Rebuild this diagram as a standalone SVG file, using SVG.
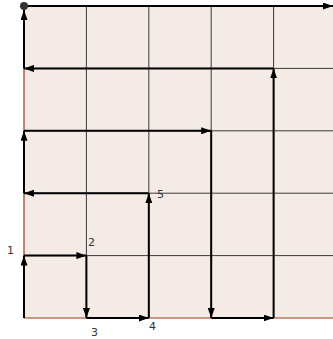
<svg xmlns="http://www.w3.org/2000/svg" width="333" height="339" viewBox="0 0 333 339">
<style>
.grid{stroke:#3a3a3a;stroke-width:1;fill:none}
.edge{stroke:#a0380c;stroke-width:1.2;fill:none}
.seg{stroke:#000;stroke-width:2;fill:none;marker-end:url(#ah)}
.lbl{font-family:"DejaVu Sans",sans-serif;font-size:11px;fill:#333}
</style>
<defs>
<marker id="ah" viewBox="0 0 10 7" refX="10" refY="3.5" markerWidth="10" markerHeight="7" markerUnits="userSpaceOnUse" orient="auto">
<path d="M0,0 L10,3.5 L0,7 Z" fill="#000"/>
</marker>
</defs>
<rect x="24" y="6" width="309" height="312" fill="#f5ebe6"/>
<g id="grid">
<line class="grid" x1="86.4" y1="6" x2="86.4" y2="318"/>
<line class="grid" x1="148.8" y1="6" x2="148.8" y2="318"/>
<line class="grid" x1="211.2" y1="6" x2="211.2" y2="318"/>
<line class="grid" x1="273.6" y1="6" x2="273.6" y2="318"/>
<line class="grid" x1="24" y1="68.4" x2="333" y2="68.4"/>
<line class="grid" x1="24" y1="130.8" x2="333" y2="130.8"/>
<line class="grid" x1="24" y1="193.2" x2="333" y2="193.2"/>
<line class="grid" x1="24" y1="255.6" x2="333" y2="255.6"/>
<line class="edge" x1="24" y1="6" x2="24" y2="318"/>
<line class="edge" x1="24" y1="318" x2="333" y2="318"/>
</g>
<g id="connectors">
<line class="seg" x1="24" y1="318" x2="24" y2="255.6"/>
<line class="seg" x1="24" y1="255.6" x2="86.4" y2="255.6"/>
<line class="seg" x1="86.4" y1="255.6" x2="86.4" y2="318"/>
<line class="seg" x1="86.4" y1="318" x2="148.8" y2="318"/>
<line class="seg" x1="148.8" y1="318" x2="148.8" y2="193.2"/>
<line class="seg" x1="148.8" y1="193.2" x2="24" y2="193.2"/>
<line class="seg" x1="24" y1="193.2" x2="24" y2="130.8"/>
<line class="seg" x1="24" y1="130.8" x2="211.2" y2="130.8"/>
<line class="seg" x1="211.2" y1="130.8" x2="211.2" y2="318"/>
<line class="seg" x1="211.2" y1="318" x2="273.6" y2="318"/>
<line class="seg" x1="273.6" y1="318" x2="273.6" y2="68.4"/>
<line class="seg" x1="273.6" y1="68.4" x2="24" y2="68.4"/>
<line class="seg" x1="24" y1="68.4" x2="24" y2="10"/>
<line class="seg" x1="24" y1="6" x2="333" y2="6"/>
</g>
<g id="start"><circle cx="24" cy="6" r="4" fill="#333"/></g>
<g id="p1"><text class="lbl" x="7" y="254">1</text></g>
<g id="p2"><text class="lbl" x="88" y="246">2</text></g>
<g id="p3"><text class="lbl" x="91" y="336">3</text></g>
<g id="p4"><text class="lbl" x="149" y="330">4</text></g>
<g id="p5"><text class="lbl" x="157" y="198">5</text></g>
</svg>
